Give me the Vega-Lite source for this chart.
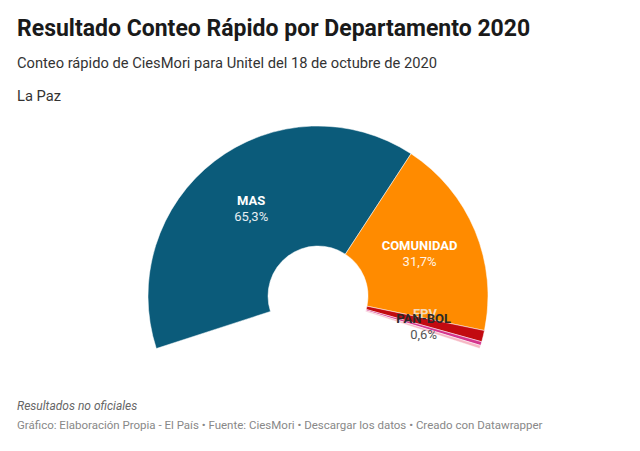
{
  "$schema": "https://vega.github.io/schema/vega-lite/v6.json",
  "background": "white",
  "padding": {"left": 17, "top": 18, "right": 5, "bottom": 5},
  "config": {
    "view": {"stroke": null},
    "font": "Roboto",
    "locale": {"number": {"decimal": ",", "thousands": ".", "grouping": [3], "currency": ["", " €"]}}
  },
  "title": {
    "text": "Resultado Conteo Rápido por Departamento 2020",
    "subtitle": ["Conteo rápido de CiesMori para Unitel del 18 de octubre de 2020", "La Paz"],
    "anchor": "start",
    "font": "Roboto",
    "fontSize": 23,
    "fontWeight": "bold",
    "color": "#1a1a1a",
    "subtitleFont": "Roboto",
    "subtitleFontSize": 14.7,
    "subtitleColor": "#333333",
    "subtitlePadding": 15,
    "subtitleLineHeight": 33,
    "offset": 21
  },
  "datasets": {
    "votos": [
      {"partido": "MAS", "pct": 0.653},
      {"partido": "COMUNIDAD", "pct": 0.317},
      {"partido": "FPV", "pct": 0.018},
      {"partido": "PAN-BOL", "pct": 0.006},
      {"partido": "Otros", "pct": 0.005}
    ]
  },
  "vconcat": [
    {
      "width": 602,
      "height": 190,
      "data": {"name": "votos"},
      "title": {
        "text": "Resultados no oficiales",
        "subtitle": "Gráfico: Elaboración Propia - El País • Fuente: CiesMori • Descargar los datos • Creado con Datawrapper",
        "orient": "bottom",
        "anchor": "start",
        "font": "Roboto",
        "fontSize": 12,
        "fontStyle": "italic",
        "fontWeight": "normal",
        "color": "#666666",
        "subtitleFont": "Roboto",
        "subtitleFontSize": 11.5,
        "subtitleColor": "#888888",
        "subtitlePadding": 7,
        "offset": 10
      },
      "encoding": {
        "theta": {"field": "pct", "type": "quantitative", "stack": true, "scale": {"range": [-1.885, 1.885]}},
        "order": {"field": "pct", "type": "quantitative", "sort": "descending"}
      },
      "layer": [
        {
          "mark": {"type": "arc", "radius": 170, "radius2": 50, "stroke": "#ffffff", "strokeWidth": 0.5},
          "encoding": {
            "color": {
              "field": "partido", "type": "nominal", "legend": null,
              "scale": {"domain": ["MAS", "COMUNIDAD", "FPV", "PAN-BOL", "Otros"], "range": ["#0b5b7a", "#ff8b00", "#c20a10", "#d4368e", "#f6b8c4"]}
            }
          }
        },
        {
          "mark": {"type": "text", "radius": 110, "dy": -8, "fontWeight": "bold", "fontSize": 13, "font": "Roboto"},
          "encoding": {
            "text": {"field": "partido", "type": "nominal"},
            "color": {
              "field": "partido", "type": "nominal", "legend": null,
              "scale": {"domain": ["MAS", "COMUNIDAD", "FPV", "PAN-BOL", "Otros"], "range": ["#ffffff", "#ffffff", "#f4d9bc", "#2a2a2a", "transparent"]}
            }
          }
        },
        {
          "mark": {"type": "text", "radius": 110, "dy": 8, "fontSize": 13, "font": "Roboto"},
          "encoding": {
            "text": {"field": "pct", "type": "quantitative", "format": ".1%"},
            "color": {
              "field": "partido", "type": "nominal", "legend": null,
              "scale": {"domain": ["MAS", "COMUNIDAD", "FPV", "PAN-BOL", "Otros"], "range": ["#e6eef2", "#fff3e6", "transparent", "#555555", "transparent"]}
            }
          }
        }
      ],
      "resolve": {"scale": {"color": "independent"}}
    }
  ]
}
